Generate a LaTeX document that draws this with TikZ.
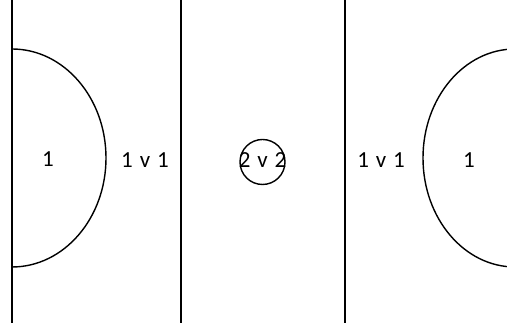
\documentclass[tikz,border=0pt]{standalone}
\usepackage{fontspec}
\setmainfont{Carlito}
\begin{document}
\begin{tikzpicture}[x=1pt,y=1pt,
  court/.style={line width=1.4pt,black},
  lbl/.style={font=\fontsize{23}{27}\selectfont,inner sep=0pt,text depth=0pt}]
\useasboundingbox (0,0) rectangle (507,323);
\clip (0,0) rectangle (507,323);
\coordinate (lt) at (12,323); \coordinate (lb) at (12,0);
\coordinate (m1t) at (181,323); \coordinate (m1b) at (181,0);
\coordinate (m2t) at (345,323); \coordinate (m2b) at (345,0);
\draw[court] (lt) -- (lb);
\draw[court] (m1t) -- (m1b);
\draw[court] (m2t) -- (m2b);
\draw[court] (12,274) arc[start angle=90,end angle=-90,x radius=94,y radius=109];
\draw[court] (515,274) arc[start angle=90,end angle=270,x radius=92,y radius=109];
\node[court,draw,circle,minimum size=45pt,inner sep=0pt] (cc) at (262.5,161) {};
\node[lbl] (g1) at (48,164) {1};
\node[lbl] (p1) at (145,163) {1\hspace{0.3em}v\hspace{0.3em}1};
\node[lbl] (p2) at (262.5,163) {2\hspace{0.3em}v\hspace{0.3em}2};
\node[lbl] (p3) at (381,163) {1\hspace{0.3em}v\hspace{0.3em}1};
\node[lbl] (g2) at (469,163) {1};
\end{tikzpicture}
\end{document}
